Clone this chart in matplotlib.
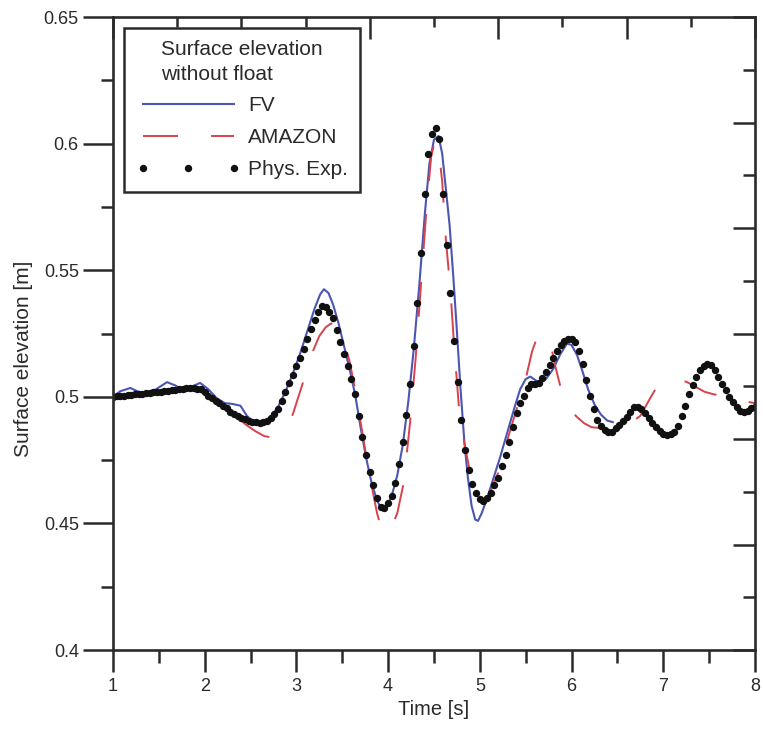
import numpy as np
import matplotlib.pyplot as plt
from matplotlib.ticker import MultipleLocator

plt.rcParams['font.family'] = ['Liberation Sans', 'DejaVu Sans']

# axis ticks
x_ticks = [1, 2, 3, 4, 5, 6, 7, 8]
x_labels = ['1', '2', '3', '4', '5', '6', '7', '8']
y_ticks = [0.4, 0.45, 0.5, 0.55, 0.6, 0.65]
y_labels = ['0.4', '0.45', '0.5', '0.55', '0.6', '0.65']

# FV (numerical model)
fv_t = [1.00, 1.08, 1.19, 1.28, 1.37, 1.47, 1.59, 1.68, 1.77, 1.86, 1.95, 2.04,
        2.13, 2.22, 2.30, 2.39, 2.46, 2.52, 2.57, 2.64, 2.72, 2.80, 2.88, 2.96,
        3.04, 3.12, 3.20, 3.26, 3.30, 3.35, 3.40, 3.46, 3.52, 3.58, 3.64, 3.70,
        3.76, 3.82, 3.88, 3.93, 3.98, 4.04, 4.10, 4.16, 4.22, 4.28, 4.34, 4.40,
        4.45, 4.50, 4.55, 4.59, 4.63, 4.67, 4.71, 4.75, 4.79, 4.83, 4.87, 4.91,
        4.95, 4.98, 5.02, 5.08, 5.15, 5.22, 5.30, 5.38, 5.44, 5.50, 5.55, 5.61,
        5.66, 5.72, 5.80, 5.88, 5.95, 6.00, 6.06, 6.12, 6.18, 6.25, 6.32, 6.39,
        6.45]
fv_v = [0.5000, 0.5022, 0.5035, 0.5020, 0.5005, 0.5030, 0.5058, 0.5045, 0.5025,
        0.5040, 0.5055, 0.5030, 0.4995, 0.4975, 0.4972, 0.4965, 0.4925, 0.4905,
        0.4900, 0.4903, 0.4920, 0.4960, 0.5020, 0.5090, 0.5170, 0.5260, 0.5350,
        0.5405, 0.5425, 0.5410, 0.5365, 0.5290, 0.5200, 0.5110, 0.5010, 0.4880,
        0.4760, 0.4660, 0.4590, 0.4555, 0.4560, 0.4610, 0.4690, 0.4810, 0.4980,
        0.5190, 0.5440, 0.5720, 0.5920, 0.6015, 0.6030, 0.5960, 0.5820, 0.5680,
        0.5480, 0.5260, 0.5030, 0.4830, 0.4680, 0.4570, 0.4515, 0.4510, 0.4540,
        0.4600, 0.4680, 0.4760, 0.4860, 0.4960, 0.5030, 0.5070, 0.5080, 0.5065,
        0.5055, 0.5070, 0.5110, 0.5170, 0.5210, 0.5205, 0.5165, 0.5100, 0.5030,
        0.4970, 0.4930, 0.4906, 0.4900]

# AMAZON
am_t = [1.00, 1.20, 1.40, 1.60, 1.80, 1.95, 2.05, 2.15, 2.25, 2.35, 2.45, 2.55,
        2.65, 2.72, 2.80, 2.88, 2.96, 3.04, 3.11, 3.18, 3.25, 3.32, 3.38, 3.44,
        3.51, 3.58, 3.64, 3.70, 3.76, 3.82, 3.88, 3.93, 3.97, 4.03, 4.10, 4.17,
        4.24, 4.30, 4.36, 4.42, 4.47, 4.51, 4.55, 4.59, 4.63, 4.68, 4.72, 4.77,
        4.83, 4.90, 4.97, 5.04, 5.12, 5.20, 5.30, 5.40, 5.50, 5.57, 5.63, 5.70,
        5.77, 5.83, 5.90, 5.98, 6.06, 6.14, 6.22, 6.35, 6.50, 6.62, 6.75, 6.85,
        6.93, 7.00, 7.10, 7.25, 7.35, 7.45, 7.55, 7.65, 7.75, 7.85, 8.00]
am_v = [0.5000, 0.5008, 0.5016, 0.5024, 0.5030, 0.5020, 0.5000, 0.4975, 0.4950,
        0.4920, 0.4890, 0.4865, 0.4845, 0.4840, 0.4850, 0.4880, 0.4930, 0.5020,
        0.5100, 0.5180, 0.5240, 0.5275, 0.5290, 0.5280, 0.5230, 0.5140, 0.5030,
        0.4900, 0.4770, 0.4650, 0.4540, 0.4475, 0.4460, 0.4480, 0.4540, 0.4660,
        0.4900, 0.5150, 0.5450, 0.5750, 0.5950, 0.6010, 0.5980, 0.5850, 0.5620,
        0.5420, 0.5200, 0.4970, 0.4820, 0.4690, 0.4600, 0.4580, 0.4630, 0.4700,
        0.4830, 0.4950, 0.5070, 0.5180, 0.5240, 0.5250, 0.5210, 0.5110, 0.5010,
        0.4950, 0.4920, 0.4895, 0.4880, 0.4875, 0.4880, 0.4890, 0.4925, 0.4990,
        0.5040, 0.5060, 0.5065, 0.5060, 0.5040, 0.5020, 0.5010, 0.5005, 0.4995,
        0.4985, 0.4975]

# Phys. Exp. - gauge sampled every 0.04 s from t = 1 s
exp_t0 = 1.0
exp_dt = 0.04
exp_v = [0.5000, 0.5002, 0.5003, 0.5005, 0.5006, 0.5008, 0.5010, 0.5011, 0.5013,
         0.5014, 0.5016, 0.5018, 0.5019, 0.5021, 0.5022, 0.5024, 0.5026, 0.5028,
         0.5030, 0.5032, 0.5034, 0.5035, 0.5034, 0.5032, 0.5030, 0.5018, 0.5005,
         0.4994, 0.4984, 0.4975, 0.4965, 0.4955, 0.4942, 0.4932, 0.4924, 0.4917,
         0.4911, 0.4906, 0.4902, 0.4899, 0.4898, 0.4901, 0.4906, 0.4918, 0.4934,
         0.4950, 0.4985, 0.5020, 0.5055, 0.5085, 0.5120, 0.5153, 0.5190, 0.5230,
         0.5268, 0.5305, 0.5335, 0.5358, 0.5355, 0.5335, 0.5310, 0.5265, 0.5215,
         0.5168, 0.5120, 0.5070, 0.5010, 0.4925, 0.4840, 0.4770, 0.4705, 0.4650,
         0.4600, 0.4565, 0.4560, 0.4580, 0.4610, 0.4660, 0.4735, 0.4820, 0.4930,
         0.5050, 0.5200, 0.5370, 0.5570, 0.5800, 0.5960, 0.6040, 0.6060, 0.6020,
         0.5800, 0.5600, 0.5410, 0.5220, 0.5060, 0.4910, 0.4790, 0.4710, 0.4655,
         0.4620, 0.4595, 0.4590, 0.4600, 0.4620, 0.4650, 0.4680, 0.4725, 0.4770,
         0.4820, 0.4880, 0.4935, 0.4975, 0.5005, 0.5035, 0.5050, 0.5052, 0.5055,
         0.5075, 0.5098, 0.5125, 0.5155, 0.5180, 0.5205, 0.5222, 0.5230, 0.5228,
         0.5215, 0.5180, 0.5130, 0.5065, 0.5005, 0.4950, 0.4910, 0.4885, 0.4870,
         0.4862, 0.4862, 0.4875, 0.4890, 0.4905, 0.4920, 0.4940, 0.4958, 0.4960,
         0.4950, 0.4935, 0.4915, 0.4895, 0.4880, 0.4865, 0.4855, 0.4850, 0.4852,
         0.4862, 0.4885, 0.4925, 0.4965, 0.5010, 0.5045, 0.5080, 0.5105, 0.5122,
         0.5130, 0.5125, 0.5105, 0.5080, 0.5050, 0.5025, 0.5000, 0.4980, 0.4960,
         0.4945, 0.4940, 0.4945, 0.4955, 0.4960]
exp_t = exp_t0 + exp_dt * np.arange(len(exp_v))

ink = '#2a2a2a'
fig = plt.figure(figsize=(7.63, 7.34), dpi=100)
ax = fig.add_axes([0.148, 0.1144, 0.8415, 0.8624])

# decorative top / right tick scales (as in the original figure)
ax_top = ax.twiny()
ax_top.set_xlim(0, 5)
ax_top.xaxis.set_major_locator(MultipleLocator(1))
ax_top.xaxis.set_minor_locator(MultipleLocator(0.5))
ax_top.tick_params(axis='x', which='both', direction='in', labeltop=False,
                   width=1.8, color=ink)
ax_top.tick_params(axis='x', which='major', length=15.8)
ax_top.tick_params(axis='x', which='minor', length=7.5)
ax_top.set_yticks([])
for s in ax_top.spines.values():
    s.set_visible(False)

ax_right = ax.twinx()
ax_right.set_ylim(0, 6)
ax_right.yaxis.set_major_locator(MultipleLocator(1))
ax_right.yaxis.set_minor_locator(MultipleLocator(0.5))
ax_right.tick_params(axis='y', which='both', direction='in', labelright=False,
                     width=1.8, color=ink)
ax_right.tick_params(axis='y', which='major', length=15.8)
ax_right.tick_params(axis='y', which='minor', length=8.6)
for s in ax_right.spines.values():
    s.set_visible(False)

ax.set_zorder(3)
ax.patch.set_visible(False)

ax.plot(fv_t, fv_v, color='#4b55b2', lw=1.5, label='FV')
ax.plot(am_t, am_v, color='#d8424c', lw=1.4, dashes=(18, 17), label='AMAZON')
ax.plot(exp_t, exp_v, ls='none', marker='o', ms=4.3, color='#111111',
        label='Phys. Exp.')

ax.set_xlim(1, 8)
ax.set_ylim(0.4, 0.65)
ax.set_xticks(x_ticks)
ax.set_xticklabels(x_labels)
ax.set_yticks(y_ticks)
ax.set_yticklabels(y_labels)
ax.xaxis.set_minor_locator(MultipleLocator(0.5))
ax.yaxis.set_minor_locator(MultipleLocator(0.025))

ax.tick_params(which='both', direction='out', width=1.8, color=ink,
               labelsize=13, labelcolor=ink)
ax.tick_params(axis='y', which='major', length=21.6, pad=3)
ax.tick_params(axis='y', which='minor', length=8.6)
ax.tick_params(axis='x', which='major', length=15.8, pad=4)
ax.tick_params(axis='x', which='minor', length=9.4)

for s in ax.spines.values():
    s.set_linewidth(1.9)
    s.set_color(ink)

ax.set_xlabel('Time [s]', fontsize=14.5, color=ink, labelpad=4)
ax.set_ylabel('Surface elevation [m]', fontsize=15, color=ink)
ax.yaxis.set_label_coords(-0.124, 0.46)

leg = ax.legend(title='Surface elevation\nwithout float', loc='upper left',
                bbox_to_anchor=(0.017, 0.983), borderaxespad=0, fontsize=15,
                title_fontsize=15, handlelength=5.0, handletextpad=0.35,
                labelspacing=0.62, numpoints=3, fancybox=False, framealpha=1,
                borderpad=0.6)
leg.get_frame().set_edgecolor(ink)
leg.get_frame().set_linewidth(1.8)
leg.get_title().set_linespacing(1.35)
for txt in leg.get_texts():
    txt.set_color(ink)
leg.get_title().set_color(ink)

fig.savefig('out.png', dpi=100, facecolor='white')
